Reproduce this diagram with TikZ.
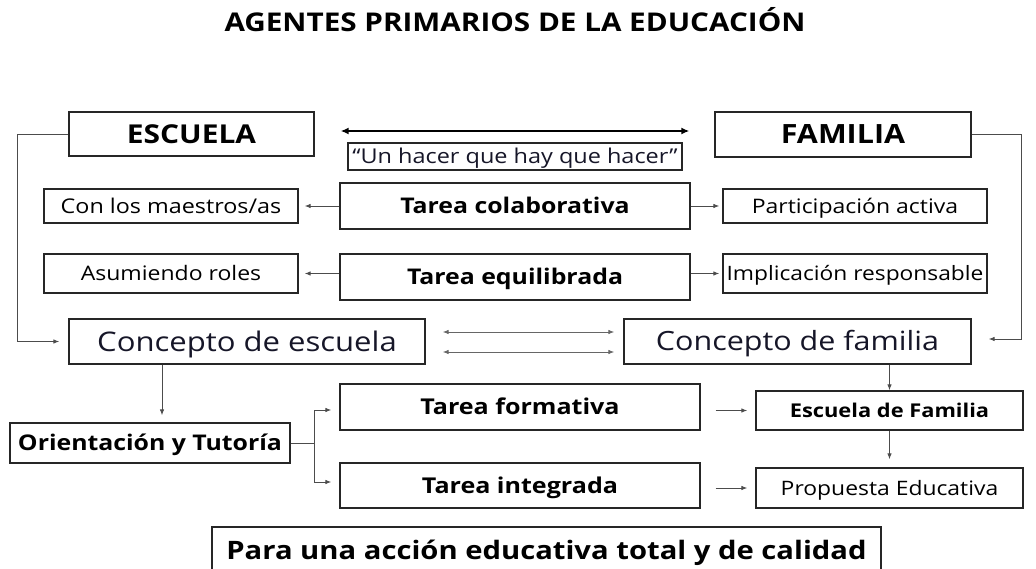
\documentclass[tikz,border=0pt]{standalone}
\usepackage{fontspec}
\setmainfont{Open Sans}[FakeStretch=1.15]
\usetikzlibrary{arrows.meta,calc}
\definecolor{ink}{RGB}{22,22,40}
\tikzset{
  box/.style={draw=black!85, line width=1.3pt, inner sep=0pt, align=center},
  arr/.style={draw=black!70, line width=0.9pt, -{Latex[length=6pt,width=4.5pt]}},
  dblarr/.style={draw=black!60, line width=0.9pt, {Latex[length=6pt,width=4.5pt]}-{Latex[length=6pt,width=4.5pt]}},
  thick arr/.style={draw=black, line width=2.4pt, {Latex[length=8pt,width=7pt]}-{Latex[length=8pt,width=7pt]}},
  fs/.code={\pgfkeysalso{/tikz/font=\fontsize{#1}{#1}\selectfont}\pgfmathsetlengthmacro\mycaph{0.714*#1}\pgfkeysalso{/tikz/text height=\mycaph,/tikz/text depth=0pt}},
  fb/.code={\pgfkeysalso{/tikz/font=\fontsize{#1}{#1}\selectfont\bfseries}\pgfmathsetlengthmacro\mycaph{0.714*#1}\pgfkeysalso{/tikz/text height=\mycaph,/tikz/text depth=0pt}},
}
\begin{document}
\begin{tikzpicture}[x=1pt,y=-1pt]
\clip (0,0) rectangle (1036,569);
\fill[white] (0,0) rectangle (1036,569);
% title
\node[fb=25.8, inner sep=0pt] (title) at (515,22) {AGENTES PRIMARIOS DE LA EDUCACIÓN};
% top row
\node[box, fb=26, minimum width=245pt, minimum height=44pt] (escuela) at (191.5,134) {ESCUELA};
\node[box, fb=26.5, minimum width=256pt, minimum height=45pt] (familia) at (843,134.5) {FAMILIA};
\node[box, fs=20.4, text=ink, minimum width=334pt, minimum height=27pt] (quote) at (515,156.5) {“Un hacer que hay que hacer”};
% row 2
\node[box, fs=20.3, minimum width=254pt, minimum height=34pt] (conlos) at (171,206) {Con los maestros/as};
\node[box, fb=21.6, minimum width=350pt, minimum height=46pt] (tcolab) at (515,206) {Tarea colaborativa};
\node[box, fs=20, minimum width=264pt, minimum height=34pt] (partic) at (855,206) {Participación activa};
% row 3
\node[box, fs=20, minimum width=254pt, minimum height=39pt] (asum) at (171,273.5) {Asumiendo roles};
\node[box, fb=21.6, text depth=-6pt, minimum width=350pt, minimum height=46pt] (tequil) at (515,277) {Tarea equilibrada};
\node[box, fs=19.8, minimum width=264pt, minimum height=39pt] (implic) at (855,273.5) {Implicación responsable};
% concepts
\node[box, fs=27, text=ink, minimum width=356pt, minimum height=45pt] (cesc) at (247,341.5) {Concepto de escuela};
\node[box, fs=26.5, text=ink, minimum width=347pt, minimum height=45pt] (cfam) at (797.5,341.5) {Concepto de familia};
% lower
\node[box, fb=21.6, minimum width=280pt, minimum height=40pt] (orient) at (150,443) {Orientación y Tutoría};
\node[box, fb=21.8, minimum width=360pt, minimum height=46pt] (tform) at (520,407) {Tarea formativa};
\node[box, fb=21.8, minimum width=360pt, minimum height=45pt] (tinteg) at (520,485.5) {Tarea integrada};
\node[box, fb=19, minimum width=267pt, minimum height=39pt] (escfam) at (889.5,410.5) {Escuela de Familia};
\node[box, fs=19.9, minimum width=267pt, minimum height=40pt] (prop) at (889.5,488) {Propuesta Educativa};
% bottom
\draw[draw=black!85, line width=1.3pt] (212,527) rectangle (881,600);
\node[fb=25.4, inner sep=0pt] (bottom) at (546.5,550.5) {Para una acción educativa total y de calidad};
% connectors
\coordinate (cdown) at ($(cesc.south)+(-85,0)$);
\draw[thick arr, shorten <=26pt, shorten >=25pt] ($(escuela.east)+(0,-3)$) -- ($(familia.west)+(0,-3.5)$);
\draw[arr, shorten >=9pt] (escuela.west) -- ++(-51,0) |- (cesc.west);
\draw[arr, shorten >=17pt] (familia.east) -- ++(50,0) |- ($(cfam.east)+(0,-2.5)$);
\draw[arr, shorten >=6pt] (tcolab.west) -- (conlos.east);
\draw[arr, shorten >=3pt] (tcolab.east) -- (partic.west);
\draw[arr, shorten >=6pt] (tequil.west |- asum.east) -- (asum.east);
\draw[arr, shorten >=3pt] (tequil.east |- implic.west) -- (implic.west);
\draw[dblarr, shorten <=17pt, shorten >=9pt] ($(cesc.east)+(0,-9.5)$) -- ($(cfam.west)+(0,-9.5)$);
\draw[dblarr, shorten <=17pt, shorten >=9pt] ($(cesc.east)+(0,10.5)$) -- ($(cfam.west)+(0,10.5)$);
\draw[arr, shorten >=7pt] (cdown) -- (cdown |- orient.north);
\draw[arr, shorten >=8pt] (orient.east) -- ++(24,0) |- ($(tform.west)+(0,3)$);
\draw[arr, shorten >=8pt] (orient.east) -- ++(24,0) |- ($(tinteg.west)+(0,-3.5)$);
\draw[arr, shorten <=15pt, shorten >=8pt] (tform.east |- escfam.west) -- (escfam.west);
\draw[arr, shorten <=15pt, shorten >=8pt] (tinteg.east |- prop.west) -- (prop.west);
\draw[arr] (escfam.north |- cfam.south) -- (escfam.north);
\draw[arr, shorten >=8pt] (escfam.south) -- (prop.north);
\end{tikzpicture}
\end{document}
